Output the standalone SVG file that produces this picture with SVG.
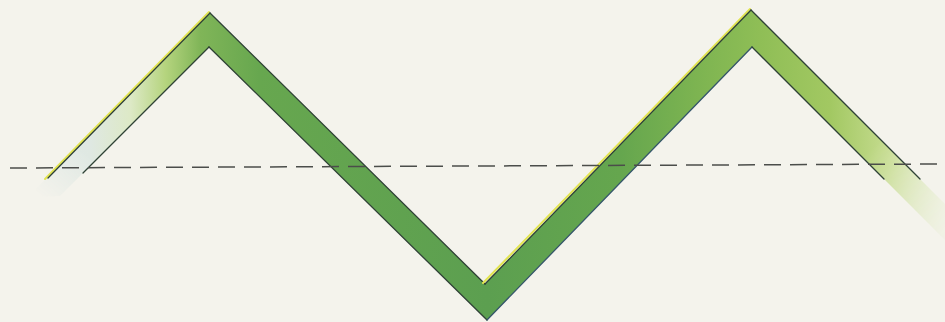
<svg xmlns="http://www.w3.org/2000/svg" width="945" height="322" viewBox="0 0 945 322">
  <defs>
    <linearGradient id="bandFill" gradientUnits="userSpaceOnUse" x1="30" y1="0" x2="945" y2="0">
      <stop offset="0" stop-color="#e1e9e7"/>
      <stop offset="0.066" stop-color="#dfe8e2"/>
      <stop offset="0.11" stop-color="#dde9c6"/>
      <stop offset="0.148" stop-color="#b5d47e"/>
      <stop offset="0.186" stop-color="#80b558"/>
      <stop offset="0.25" stop-color="#67a74f"/>
      <stop offset="0.5" stop-color="#5c9f50"/>
      <stop offset="0.645" stop-color="#65a64e"/>
      <stop offset="0.73" stop-color="#7db451"/>
      <stop offset="0.798" stop-color="#8fbe56"/>
      <stop offset="0.874" stop-color="#a2c862"/>
      <stop offset="0.94" stop-color="#c6dc90"/>
      <stop offset="1" stop-color="#e8efd3"/>
    </linearGradient>
    <linearGradient id="fadeLeft" gradientUnits="userSpaceOnUse" x1="80" y1="150" x2="42" y2="197">
      <stop offset="0" stop-color="#fff"/>
      <stop offset="1" stop-color="#000"/>
    </linearGradient>
    <linearGradient id="fadeRight" gradientUnits="userSpaceOnUse" x1="870" y1="150" x2="955" y2="245">
      <stop offset="0" stop-color="#fff"/>
      <stop offset="1" stop-color="#222"/>
    </linearGradient>
    <mask id="bandMask" maskUnits="userSpaceOnUse" x="0" y="0" width="945" height="322">
      <rect x="0" y="0" width="470" height="322" fill="url(#fadeLeft)"/>
      <rect x="470" y="0" width="475" height="322" fill="url(#fadeRight)"/>
    </mask>
    <style>
      .dark { fill: none; stroke: #2f4236; stroke-width: 1.3; stroke-linecap: round; }
      .darkblue { fill: none; stroke: #35566a; stroke-width: 1.3; stroke-linecap: round; }
      .hi { fill: none; stroke: #e2e450; stroke-width: 2; stroke-linecap: round; }
      .dash { fill: none; stroke: #4b4d4a; stroke-width: 1.5; stroke-dasharray: 17 9; }
    </style>
  </defs>
  <rect x="0" y="0" width="945" height="322" fill="#f4f3ec"/>

  <g id="band">
    <polygon fill="url(#bandFill)" mask="url(#bandMask)" points="28,197 210,13 485,284 751,10 945,204 945,240 752,47 487,320 209,47 60,196"/>
  </g>

  <g id="edges">
    <line class="hi" x1="45" y1="179" x2="209" y2="12"/>
    <line class="dark" x1="48" y1="178" x2="210" y2="13"/>
    <line class="dark" x1="210" y1="13" x2="485" y2="284"/>
    <line class="hi" x1="483" y1="283" x2="750" y2="9"/>
    <line class="dark" x1="485" y1="284" x2="751" y2="10"/>
    <line class="dark" x1="751" y1="10" x2="920" y2="179"/>
    <line class="dark" x1="83" y1="173" x2="209" y2="47"/>
    <line class="dark" x1="209" y1="47" x2="487" y2="320"/>
    <line class="darkblue" x1="487" y1="320" x2="752" y2="47"/>
    <line class="dark" x1="752" y1="47" x2="884" y2="179"/>
  </g>

  <g id="connectors">
    <line class="dash" x1="10" y1="168" x2="945" y2="164"/>
  </g>
</svg>
